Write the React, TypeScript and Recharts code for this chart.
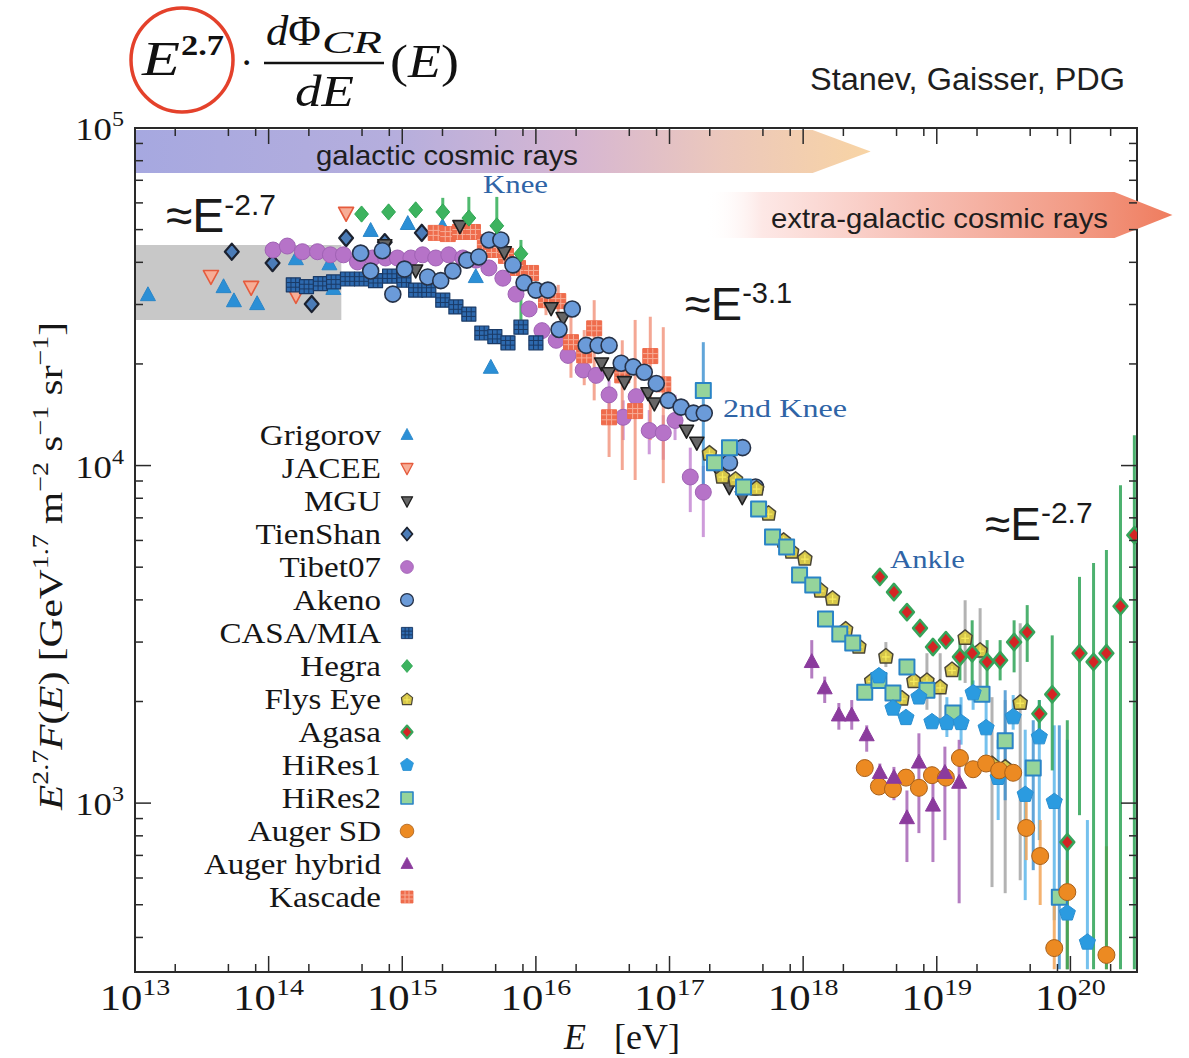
import React from 'react';
import { ScatterChart, Scatter, XAxis, YAxis, ErrorBar, ReferenceArea, Legend } from 'recharts';

const WIDTH = 1189;
const HEIGHT = 1058;
const PLOT_TOP = 128;
const PLOT_RIGHT = 1137;
const X_DOMAIN: [number, number] = [1e13, 3.15e20];
const Y_DOMAIN: [number, number] = [316, 1e5];

// ---------- ticks ----------
const xMajorTicks = [1e13, 1e14, 1e15, 1e16, 1e17, 1e18, 1e19, 1e20];
const xMinorTicks = [2e13, 5e13, 8e13, 2e14, 5e14, 8e14, 2e15, 5e15, 8e15, 2e16, 5e16, 8e16, 2e17, 5e17, 8e17, 2e18, 5e18, 8e18, 2e19, 5e19, 8e19, 2e20];
const yMajorTicks = [1e3, 1e4, 1e5];
const yMinorTicks = [400, 500, 600, 700, 800, 900, 2000, 3000, 4000, 5000, 6000, 7000, 8000, 9000, 20000, 30000, 40000, 50000, 60000, 70000, 80000, 90000];
const xAllTicks = [...xMajorTicks, ...xMinorTicks].sort((a, b) => a - b);
const yAllTicks = [...yMajorTicks, ...yMinorTicks].sort((a, b) => a - b);

// ---------- data (E in eV, F = E^2.7 flux) ----------
const grigorovE = [1.25e13, 4.6e13, 5.5e13, 8.2e13, 1.6e14, 2.85e14, 3.05e14, 5.8e14, 1.1e15, 2.0e15, 3.55e15, 4.6e15];
const grigorovF = [32000, 33800, 30700, 30100, 40900, 39500, 33400, 49600, 52000, 51000, 36200, 19500];

const jaceeE = [3.7e13, 7.4e13, 1.6e14, 3.8e14];
const jaceeF = [36400, 33800, 32000, 56000];

const mguE = [7.4e14, 1.26e15, 2.7e15, 5.8e15, 1.3e16, 1.6e16, 3.1e16, 3.5e16, 4.6e16, 6.9e16, 7.7e16, 1.34e17, 1.6e17, 2.3e17, 2.8e17, 3.5e17];
const mguF = [45000, 37900, 51300, 42900, 29300, 27400, 20100, 18800, 17700, 16400, 15300, 12700, 11700, 9700, 8640, 8070];

const tienShanE = [5.3e13, 1.07e14, 2.1e14, 3.8e14, 7.4e14, 1.4e15];
const tienShanF = [43000, 39800, 30100, 47200, 45900, 48900];

const tibetE = [1.08e14, 1.38e14, 1.79e14, 2.32e14, 2.9e14, 3.63e14, 4.62e14, 6.0e14, 7.5e14, 9.2e14, 1.16e15, 1.42e15, 1.78e15, 2.23e15, 2.84e15, 3.56e15, 4.45e15, 5.66e15, 7.1e15, 8.9e15, 1.11e16, 1.42e16, 1.74e16, 2.26e16, 2.82e16, 3.53e16, 4.5e16, 5.63e16, 7.05e16, 8.98e16, 1.1e17, 1.43e17, 1.79e17];
const tibetF = [43500, 44700, 43000, 43000, 42100, 42100, 40100, 41200, 41200, 41200, 41200, 42100, 41200, 42100, 41200, 40600, 38500, 35900, 32200, 29100, 25100, 23500, 21200, 19200, 18500, 16200, 13900, 16000, 12700, 12500, 13600, 9250, 8340];
const tibetHi = [null, null, null, null, null, null, null, null, null, null, null, null, null, null, null, null, null, null, null, null, null, null, null, null, null, 17900, 15600, null, 14600, 14100, 16200, 11300, 9980];
const tibetLo = [null, null, null, null, null, null, null, null, null, null, null, null, null, null, null, null, null, null, null, null, null, null, null, null, null, 14600, 11900, null, 10800, 10400, 11900, 7280, 6140];

const akenoE = [4.88e14, 5.8e14, 7.1e14, 8.5e14, 1.04e15, 1.55e15, 1.94e15, 2.39e15, 3.04e15, 3.74e15, 4.45e15, 5.47e15, 6.73e15, 8.15e15, 1.0e16, 1.23e16, 1.49e16, 1.87e16, 2.38e16, 2.92e16, 3.53e16, 4.35e16, 5.35e16, 6.47e16, 7.96e16, 9.8e16, 1.22e17, 1.51e17, 1.82e17, 2.81e17, 3.52e17, 4.4e17];
const akenoF = [42600, 37700, 43300, 32200, 38200, 36200, 35300, 37700, 40600, 41500, 46600, 46600, 39300, 34800, 33100, 33100, 25300, 29100, 22700, 22700, 22700, 20100, 19600, 18900, 17500, 15600, 14900, 14300, 14300, 10200, 11300, 8640];

const casaE = [1.53e14, 1.92e14, 2.44e14, 3.06e14, 3.89e14, 4.96e14, 6.31e14, 8.04e14, 1.03e15, 1.26e15, 1.58e15, 2.01e15, 2.52e15, 3.15e15, 3.94e15, 4.93e15, 6.18e15, 7.73e15, 1.0e16];
const casaF = [34300, 33900, 34600, 35000, 35700, 35700, 35300, 36400, 35400, 33100, 33100, 30900, 29500, 28100, 24700, 24100, 23100, 25700, 23100];

const hegraE = [4.96e14, 7.9e14, 1.26e15, 2.01e15, 3.15e15, 5.1e15, 7.73e15];
const hegraF = [55600, 56400, 57200, 56400, 54100, 51300, 42400];
const hegraHi = [null, null, null, 62100, 62500, 62500, 46600];
const hegraLo = [null, null, null, 55200, 53400, 47500, 27000];

const flysEyeE = [1.99e17, 2.49e17, 3.12e17, 4.48e17, 5.51e17, 7.14e17, 8.2e17, 1.03e18, 1.35e18, 1.66e18, 2.08e18, 2.61e18, 3.26e18, 4.16e18, 5.48e18, 6.74e18, 8.44e18, 1.06e19, 1.3e19, 1.63e19, 2.11e19, 2.59e19, 3.25e19, 4.21e19];
const flysEyeF = [10900, 9310, 9120, 8580, 7230, 6010, 5580, 5320, 4280, 4050, 3280, 2920, 2310, 2730, 2050, 2310, 2310, 2210, 2490, 3100, 2840, 1310, 1280, 1990];
const flysEyeHi = [null, null, null, null, null, null, null, null, null, null, null, null, null, 3000, null, null, 2780, 2780, null, 3990, 3780, 2060, 2020, 3410];
const flysEyeLo = [null, null, null, null, null, null, null, null, null, null, null, null, null, 2530, null, null, 1890, 1760, null, 2270, 2160, 564, 541, 591];

const agasaE = [3.75e18, 4.78e18, 5.98e18, 7.49e18, 9.36e18, 1.17e19, 1.49e19, 1.84e19, 2.38e19, 2.98e19, 3.79e19, 4.75e19, 5.85e19, 7.31e19, 9.48e19, 1.17e20, 1.49e20, 1.86e20, 2.37e20, 3.01e20];
const agasaF = [4680, 4220, 3680, 3300, 2900, 3040, 2710, 2780, 2620, 2650, 3000, 3210, 1840, 2100, 766, 2780, 2620, 2780, 3830, 6220];
const agasaHi = [null, null, null, null, null, null, 3040, 3480, 3040, 3040, 3480, 3860, 2020, 3140, 1760, 4680, 5140, 5620, 8750, 12300];
const agasaLo = [null, null, null, null, null, null, 2310, 2160, 2160, 2310, 2440, 2620, 1650, 1250, 322, 921, 322, 322, 322, 322];

const hires1E = [3.69e18, 4.7e18, 5.88e18, 7.35e18, 9.2e18, 1.19e19, 1.52e19, 1.87e19, 2.34e19, 2.88e19, 3.73e19, 4.59e19, 5.85e19, 7.57e19, 9.48e19, 1.34e20];
const hires1F = [2380, 1910, 1790, 2060, 1740, 1730, 1730, 2120, 1670, 1190, 1800, 1060, 1570, 1010, 472, 387];
const hires1Hi = [null, null, null, null, null, 2060, 2060, 2310, 2020, 1540, 2090, 1650, 2020, 1700, 1540, 891];
const hires1Lo = [null, null, null, null, null, 1570, 1490, 1890, 1340, 891, 1650, 516, 777, 450, 322, 322];

const hires2E = [1.79e17, 2.17e17, 2.81e17, 3.58e17, 4.64e17, 5.9e17, 7.52e17, 9.4e17, 1.18e18, 1.47e18, 1.88e18, 2.35e18, 2.89e18, 3.69e18, 4.7e18, 5.98e18, 8.44e18, 1.32e19, 2.18e19, 3.25e19, 5.27e19, 8.26e19];
const hires2F = [16700, 10200, 11300, 8640, 7430, 6140, 5740, 4740, 4430, 3510, 3170, 2980, 2130, 2310, 2120, 2530, 2160, 1850, 2100, 1530, 1270, 526];
const hires2Hi = [23200, null, null, null, null, null, null, null, null, null, null, null, null, null, null, null, null, null, null, 2160, 1760, 1700];
const hires2Lo = [7900, null, null, null, null, null, null, null, null, null, null, null, null, null, null, null, null, null, null, 1020, 633, 322];

const augerSdE = [2.89e18, 3.69e18, 4.7e18, 5.88e18, 7.35e18, 9.2e18, 1.17e19, 1.49e19, 1.87e19, 2.34e19, 2.93e19, 3.73e19, 4.67e19, 5.94e19, 7.57e19, 9.48e19, 1.86e20];
const augerSdF = [1270, 1120, 1100, 1190, 1110, 1210, 1190, 1360, 1260, 1310, 1250, 1230, 844, 697, 372, 545, 355];
const augerSdHi = [null, null, null, null, null, null, null, null, null, null, null, null, 1020, 891, 499, 678, 745];
const augerSdLo = [null, null, null, null, null, null, null, null, null, null, null, null, 678, 499, 322, 322, 322];

const augerHybE = [1.16e18, 1.45e18, 1.85e18, 2.31e18, 2.99e18, 3.75e18, 4.78e18, 5.98e18, 7.35e18, 9.36e18, 1.15e19, 1.47e19];
const augerHybF = [2620, 2190, 1820, 1820, 1590, 1230, 1190, 903, 1320, 984, 1230, 1150];
const augerHybHi = [3040, 2370, 1980, 2020, 1700, 1310, 1280, 1090, 1610, 1280, 1470, 1540];
const augerHybLo = [2340, 1980, 1650, 1650, 1420, 1090, 1020, 669, 815, 669, 777, 505];

const kascadeE = [1.78e15, 2.19e15, 2.7e15, 3.38e15, 4.15e15, 4.85e15, 5.97e15, 7.35e15, 9.2e15, 1.19e16, 1.47e16, 1.83e16, 2.3e16, 2.73e16, 3.53e16, 4.43e16, 5.53e16, 7.18e16, 8.98e16];
const kascadeF = [48900, 48500, 49200, 49200, 45900, 43500, 41800, 38500, 37200, 30900, 30700, 23200, 21200, 25500, 13900, 18500, 14500, 21100, 17400];
const kascadeHi = [null, null, null, null, null, null, null, null, null, 34300, 34300, 28900, 25200, 30900, 16700, 23500, 27000, 27600, 25700];
const kascadeLo = [null, null, null, null, null, null, null, null, null, 27900, 27400, 18200, 17300, 15600, 10600, 9700, 9060, 11900, 8870];

// grey E^-2.7 band and arrows (data-space extents)
const bandE = [1e13, 3.5e14];
const bandF = [27000, 45000];
const galacticE = [1e13, 3.2e18];
const galacticF = [73600, 98600];
const extraGalE = [1.87e17, 5.8e20];
const extraGalF = [47200, 64600];

// ---------- series styling ----------
type MType = 'tri' | 'itri' | 'diamond' | 'circle' | 'square' | 'gridsq' | 'pent' | 'house';
interface Cfg {
  name: string; E: number[]; F: number[]; hi?: (number | null)[]; lo?: (number | null)[];
  m: MType; size: number; fill: string; stroke: string; sw: number; inner?: string;
  errColor?: string; errOpacity?: number;
}

const SERIES: Cfg[] = [
  { name: 'Grigorov', E: grigorovE, F: grigorovF, m: 'tri', size: 15, fill: '#2b8fd6', stroke: '#2a86c8', sw: 1 },
  { name: 'JACEE', E: jaceeE, F: jaceeF, m: 'itri', size: 15, fill: '#f7ad96', stroke: '#e55b3d', sw: 1.6 },
  { name: 'MGU', E: mguE, F: mguF, m: 'itri', size: 14, fill: '#666666', stroke: '#1e1e1e', sw: 1.6 },
  { name: 'TienShan', E: tienShanE, F: tienShanF, m: 'diamond', size: 15, fill: '#4b7cb8', stroke: '#1c2230', sw: 2.2 },
  { name: 'Tibet07', E: tibetE, F: tibetF, hi: tibetHi, lo: tibetLo, m: 'circle', size: 16, fill: '#b673c8', stroke: '#a062b4', sw: 1, errColor: '#c58ad4', errOpacity: 0.85 },
  { name: 'Akeno', E: akenoE, F: akenoF, m: 'circle', size: 16, fill: '#6b9bd9', stroke: '#263248', sw: 1.6 },
  { name: 'CASA/MIA', E: casaE, F: casaF, m: 'gridsq', size: 14, fill: '#2d69ae', stroke: '#1a3a66', sw: 1.2, inner: '#1a3a66' },
  { name: 'Hegra', E: hegraE, F: hegraF, hi: hegraHi, lo: hegraLo, m: 'diamond', size: 15, fill: '#3db35f', stroke: '#2ea653', sw: 1, errColor: '#3db35f', errOpacity: 0.9 },
  { name: 'Flys Eye', E: flysEyeE, F: flysEyeF, hi: flysEyeHi, lo: flysEyeLo, m: 'house', size: 14, fill: '#d6c64a', stroke: '#4a4636', sw: 1.5, inner: '#f6ea5c', errColor: '#9a9a9a', errOpacity: 0.75 },
  { name: 'Agasa', E: agasaE, F: agasaF, hi: agasaHi, lo: agasaLo, m: 'diamond', size: 15, fill: '#d42424', stroke: '#36a45a', sw: 2.6, errColor: '#2ea356', errOpacity: 0.85 },
  { name: 'HiRes1', E: hires1E, F: hires1F, hi: hires1Hi, lo: hires1Lo, m: 'pent', size: 17, fill: '#2b9be0', stroke: '#2b8fd0', sw: 1, errColor: '#3aa6e6', errOpacity: 0.7 },
  { name: 'HiRes2', E: hires2E, F: hires2F, hi: hires2Hi, lo: hires2Lo, m: 'square', size: 15, fill: '#95d49b', stroke: '#2a84c6', sw: 2, errColor: '#3a8ed0', errOpacity: 0.8 },
  { name: 'Auger SD', E: augerSdE, F: augerSdF, hi: augerSdHi, lo: augerSdLo, m: 'circle', size: 17, fill: '#ec8a22', stroke: '#a8601a', sw: 1, errColor: '#f2a457', errOpacity: 0.85 },
  { name: 'Auger hybrid', E: augerHybE, F: augerHybF, hi: augerHybHi, lo: augerHybLo, m: 'tri', size: 15, fill: '#8b3b9d', stroke: '#8b3b9d', sw: 1, errColor: '#a766b6', errOpacity: 0.85 },
  { name: 'Kascade', E: kascadeE, F: kascadeF, hi: kascadeHi, lo: kascadeLo, m: 'gridsq', size: 15, fill: '#ef6c4c', stroke: '#ee6a4a', sw: 1, inner: '#f7ac96', errColor: '#f08a70', errOpacity: 0.75 },
];

const DRAW_ORDER = ['Grigorov', 'JACEE', 'TienShan', 'Tibet07', 'CASA/MIA', 'Kascade', 'MGU', 'Akeno', 'Hegra', 'Flys Eye', 'HiRes2', 'HiRes1', 'Auger SD', 'Auger hybrid', 'Agasa'];

type Pt = { x: number; y: number; err: [number, number] };
function buildPoints(c: Cfg): Pt[] {
  return c.E.map((e, i) => {
    const f = c.F[i];
    const h = c.hi && c.hi[i] != null ? (c.hi[i] as number) : f;
    const l = c.lo && c.lo[i] != null ? (c.lo[i] as number) : f;
    return { x: e, y: f, err: [f - l, h - f] };
  });
}

function Marker({ c, cx, cy, scale = 1 }: { c: Cfg; cx: number; cy: number; scale?: number }) {
  const s = c.size * scale;
  const h = s / 2;
  const common = { fill: c.fill, stroke: c.stroke, strokeWidth: c.sw * scale, strokeLinejoin: 'round' as const };
  switch (c.m) {
    case 'tri':
      return <polygon points={`${cx},${cy - h * 1.1} ${cx + h},${cy + h * 0.75} ${cx - h},${cy + h * 0.75}`} {...common} />;
    case 'itri':
      return <polygon points={`${cx},${cy + h * 1.1} ${cx + h},${cy - h * 0.75} ${cx - h},${cy - h * 0.75}`} {...common} />;
    case 'diamond':
      return <polygon points={`${cx},${cy - h * 1.08} ${cx + h * 0.92},${cy} ${cx},${cy + h * 1.08} ${cx - h * 0.92},${cy}`} {...common} />;
    case 'circle':
      return <circle cx={cx} cy={cy} r={h} {...common} />;
    case 'square':
      return <rect x={cx - h} y={cy - h} width={s} height={s} {...common} />;
    case 'gridsq': {
      const t = s / 3;
      return (
        <g>
          <rect x={cx - h} y={cy - h} width={s} height={s} {...common} />
          <line x1={cx - h + t} x2={cx - h + t} y1={cy - h} y2={cy + h} stroke={c.inner} strokeWidth={1} />
          <line x1={cx - h + 2 * t} x2={cx - h + 2 * t} y1={cy - h} y2={cy + h} stroke={c.inner} strokeWidth={1} />
          <line y1={cy - h + t} y2={cy - h + t} x1={cx - h} x2={cx + h} stroke={c.inner} strokeWidth={1} />
          <line y1={cy - h + 2 * t} y2={cy - h + 2 * t} x1={cx - h} x2={cx + h} stroke={c.inner} strokeWidth={1} />
        </g>
      );
    }
    case 'pent': {
      const pts = [0, 1, 2, 3, 4].map((k) => {
        const a = ((-90 + 72 * k) * Math.PI) / 180;
        return `${cx + h * Math.cos(a)},${cy + h * Math.sin(a)}`;
      }).join(' ');
      return <polygon points={pts} {...common} />;
    }
    case 'house': {
      const pts = `${cx},${cy - h * 1.05} ${cx + h},${cy - h * 0.25} ${cx + h * 0.8},${cy + h} ${cx - h * 0.8},${cy + h} ${cx - h},${cy - h * 0.25}`;
      return (
        <g>
          <polygon points={pts} {...common} />
          <line x1={cx} x2={cx} y1={cy - h * 0.5} y2={cy + h * 0.7} stroke={c.inner} strokeWidth={1.3 * scale} />
          <line x1={cx - h * 0.55} x2={cx + h * 0.55} y1={cy + h * 0.15} y2={cy + h * 0.15} stroke={c.inner} strokeWidth={1.3 * scale} />
        </g>
      );
    }
  }
  return null;
}

// ---------- ticks ----------
const SERIF = '"Liberation Serif", "DejaVu Serif", serif';
const SANS = '"Liberation Sans", Arial, sans-serif';
const TICK_COLOR = '#2a2a2a';

// bottom axis: label for majors + inward tick marks at bottom and top of the frame
const XTick = (props: any) => {
  const { x, y, payload } = props;
  const v = payload.value;
  const major = xMajorTicks.includes(v);
  const len = major ? 16 : 8;
  const exp = Math.round(Math.log10(v));
  return (
    <g>
      <line x1={x} x2={x} y1={y} y2={y - len} stroke={TICK_COLOR} strokeWidth={1.5} />
      <line x1={x} x2={x} y1={PLOT_TOP} y2={PLOT_TOP + len} stroke={TICK_COLOR} strokeWidth={1.5} />
      {major ? (
        <g transform={`translate(${x},${y + 38}) scale(1.22,1)`}>
          <text x={0} y={0} textAnchor="middle" fontFamily={SERIF} fontSize={35} fill="#161616">
            10<tspan fontSize={23} dy={-15}>{exp}</tspan>
          </text>
        </g>
      ) : null}
    </g>
  );
};

// left axis: label for majors + inward tick marks at left and right of the frame
const YTick = (props: any) => {
  const { x, y, payload } = props;
  const v = payload.value;
  const major = yMajorTicks.includes(v);
  const len = major ? 16 : 8;
  const exp = Math.round(Math.log10(v));
  return (
    <g>
      <line x1={x} x2={x + len} y1={y} y2={y} stroke={TICK_COLOR} strokeWidth={1.5} />
      <line x1={PLOT_RIGHT} x2={PLOT_RIGHT - len} y1={y} y2={y} stroke={TICK_COLOR} strokeWidth={1.5} />
      {major ? (
        <g transform={`translate(${x - 11},${y + 12}) scale(1.15,1)`}>
          <text x={0} y={0} textAnchor="end" fontFamily={SERIF} fontSize={32} fill="#161616">
            10<tspan fontSize={21} dy={-14}>{exp}</tspan>
          </text>
        </g>
      ) : null}
    </g>
  );
};

// ---------- arrow shapes ----------
const makeArrow = (id: string, stops: [number, string, number][]) => (p: any) => {
  const { x, y, width, height } = p;
  const tip = 58;
  const pts = `${x},${y} ${x + width - tip},${y} ${x + width},${y + height / 2} ${x + width - tip},${y + height} ${x},${y + height}`;
  return (
    <g>
      <defs>
        <linearGradient id={id} x1="0" y1="0" x2="1" y2="0">
          {stops.map(([o, col, op], i) => <stop key={i} offset={o} stopColor={col} stopOpacity={op} />)}
        </linearGradient>
      </defs>
      <polygon points={pts} fill={`url(#${id})`} />
    </g>
  );
};

const galacticShape = makeArrow('gradGal', [[0, '#a6a8e0', 1], [0.35, '#b5aedd', 1], [0.6, '#d6b6d2', 1], [0.8, '#ecc8bc', 1], [1, '#f8d4a4', 1]]);
const extraShape = makeArrow('gradExtra', [[0, '#ffffff', 0], [0.12, '#fde8e6', 1], [0.45, '#f7c0b6', 1], [0.8, '#f29a84', 1], [1, '#ef7c5e', 1]]);

// ---------- legend ----------
const renderLegend = (props: any) => {
  const payload: any[] = props.payload || [];
  return (
    <svg width={240} height={500} style={{ overflow: 'visible' }}>
      {SERIES.map((s, i) => {
        const p = payload.find((q) => q.value === s.name);
        if (!p) return null;
        const cy = 15 + i * 33;
        return (
          <g key={s.name}>
            <g transform={`translate(190,${cy + 10}) scale(1.14,1)`}>
              <text x={0} y={0} textAnchor="end" fontFamily={SERIF} fontSize={29} fill="#161616">{s.name}</text>
            </g>
            <Marker c={s} cx={216} cy={cy} scale={0.8} />
          </g>
        );
      })}
    </svg>
  );
};

export default function App() {
  return (
    <div style={{ position: 'absolute', left: 0, top: 0, width: WIDTH, height: HEIGHT, background: '#fff' }}>
      <ScatterChart width={WIDTH} height={HEIGHT} margin={{ top: PLOT_TOP, right: WIDTH - PLOT_RIGHT, bottom: 26, left: 65 }}>
        <XAxis xAxisId="b" dataKey="x" type="number" scale="log" domain={X_DOMAIN} allowDataOverflow ticks={xAllTicks} interval={0}
          tickLine={false} tickSize={0} tickMargin={0} tick={XTick} height={60} axisLine={false} />
        <YAxis yAxisId="l" dataKey="y" type="number" scale="log" domain={Y_DOMAIN} allowDataOverflow ticks={yAllTicks} interval={0}
          tickLine={false} tickSize={0} tickMargin={0} tick={YTick} width={70} axisLine={false} />

        <ReferenceArea xAxisId="b" yAxisId="l" x1={bandE[0]} x2={bandE[1]} y1={bandF[0]} y2={bandF[1]} fill="#c8c8c8" fillOpacity={1} stroke="none" ifOverflow="visible" />
        <ReferenceArea xAxisId="b" yAxisId="l" x1={galacticE[0]} x2={galacticE[1]} y1={galacticF[0]} y2={galacticF[1]} shape={galacticShape} ifOverflow="visible" />

        {DRAW_ORDER.map((name) => {
          const s = SERIES.find((q) => q.name === name)!;
          return (
            <Scatter key={name} name={name} data={buildPoints(s)} xAxisId="b" yAxisId="l" fill={s.fill} isAnimationActive={false}
              shape={(p: any) => <Marker c={s} cx={p.cx} cy={p.cy} />}>
              {s.hi ? <ErrorBar dataKey="err" direction="y" width={0} stroke={s.errColor} strokeWidth={3} strokeOpacity={s.errOpacity} /> : null}
            </Scatter>
          );
        })}

        {/* plot frame */}
        <ReferenceArea xAxisId="b" yAxisId="l" x1={X_DOMAIN[0]} x2={X_DOMAIN[1]} y1={Y_DOMAIN[0]} y2={Y_DOMAIN[1]} fill="none" stroke={TICK_COLOR} strokeWidth={2} ifOverflow="visible" />
        <ReferenceArea xAxisId="b" yAxisId="l" x1={extraGalE[0]} x2={extraGalE[1]} y1={extraGalF[0]} y2={extraGalF[1]} shape={extraShape} ifOverflow="visible" />

        <Legend layout="vertical" align="center" verticalAlign="middle" content={renderLegend}
          wrapperStyle={{ left: 191, top: 420, width: 240, height: 500 }} />
      </ScatterChart>

      <svg width={WIDTH} height={HEIGHT} style={{ position: 'absolute', left: 0, top: 0, pointerEvents: 'none' }}>
        {/* formula title */}
        <ellipse cx={182} cy={60} rx={51} ry={52} fill="none" stroke="#e4412b" strokeWidth={3.5} />
        <text x={142} y={75} fontFamily={SERIF} fontStyle="italic" fontSize={48} textLength={38} lengthAdjust="spacingAndGlyphs" fill="#111">E</text>
        <text x={181} y={55} fontFamily={SERIF} fontWeight="bold" fontSize={30} textLength={43} lengthAdjust="spacingAndGlyphs" fill="#111">2.7</text>
        <text x={240} y={76} fontFamily={SERIF} fontSize={40} fill="#111">·</text>
        <text x={266} y={45} fontFamily={SERIF} fontSize={42} textLength={55} lengthAdjust="spacingAndGlyphs" fill="#111"><tspan fontStyle="italic">d</tspan>Φ</text>
        <text x={322} y={53} fontFamily={SERIF} fontStyle="italic" fontSize={31} textLength={60} lengthAdjust="spacingAndGlyphs" fill="#111">CR</text>
        <line x1={264} x2={384} y1={63} y2={63} stroke="#111" strokeWidth={2.5} />
        <text x={295} y={106} fontFamily={SERIF} fontStyle="italic" fontSize={44} textLength={59} lengthAdjust="spacingAndGlyphs" fill="#111">dE</text>
        <text x={390} y={77} fontFamily={SERIF} fontSize={46} textLength={69} lengthAdjust="spacingAndGlyphs" fill="#111">(<tspan fontStyle="italic">E</tspan>)</text>

        <text x={1125} y={90} textAnchor="end" fontFamily={SANS} fontSize={31} textLength={315} lengthAdjust="spacingAndGlyphs" fill="#1e1e1e">Stanev, Gaisser, PDG</text>

        <text x={316} y={165} fontFamily={SANS} fontSize={28} textLength={262} lengthAdjust="spacingAndGlyphs" fill="#1e1e1e">galactic cosmic rays</text>
        <text x={771} y={228} fontFamily={SANS} fontSize={28} textLength={337} lengthAdjust="spacingAndGlyphs" fill="#1e1e1e">extra-galactic cosmic rays</text>

        <text x={483} y={193} fontFamily={SERIF} fontSize={25} textLength={65} lengthAdjust="spacingAndGlyphs" fill="#2f64a6">Knee</text>
        <text x={723} y={417} fontFamily={SERIF} fontSize={25} textLength={124} lengthAdjust="spacingAndGlyphs" fill="#2f64a6">2nd Knee</text>
        <text x={890} y={568} fontFamily={SERIF} fontSize={26} textLength={75} lengthAdjust="spacingAndGlyphs" fill="#2f64a6">Ankle</text>

        <text x={166} y={232} fontFamily={SANS} fontSize={48} fill="#1a1a1a">≈E<tspan fontSize={30} dy={-17}>-2.7</tspan></text>
        <text x={685} y={320} fontFamily={SANS} fontSize={47} fill="#1a1a1a">≈E<tspan fontSize={29} dy={-17}>-3.1</tspan></text>
        <text x={985} y={540} fontFamily={SANS} fontSize={46} fill="#1a1a1a">≈E<tspan fontSize={30} dy={-17}>-2.7</tspan></text>

        <text transform="translate(62,566) rotate(-90)" textAnchor="middle" fontFamily={SERIF} fontSize={34} textLength={488} lengthAdjust="spacingAndGlyphs" fill="#161616">
          <tspan fontStyle="italic">E</tspan><tspan fontSize={23} dy={-14}>2.7</tspan><tspan fontStyle="italic" dy={14}>F</tspan>(<tspan fontStyle="italic">E</tspan>) [GeV<tspan fontSize={23} dy={-14}>1.7</tspan><tspan dy={14}> m</tspan><tspan fontSize={23} dy={-14}>−2</tspan><tspan dy={14}> s</tspan><tspan fontSize={23} dy={-14}>−1</tspan><tspan dy={14}> sr</tspan><tspan fontSize={23} dy={-14}>−1</tspan><tspan dy={14}>]</tspan>
        </text>

        <text x={564} y={1049} fontFamily={SERIF} fontSize={36} fill="#161616"><tspan fontStyle="italic">E</tspan><tspan x={614}>[eV]</tspan></text>
      </svg>
    </div>
  );
}
